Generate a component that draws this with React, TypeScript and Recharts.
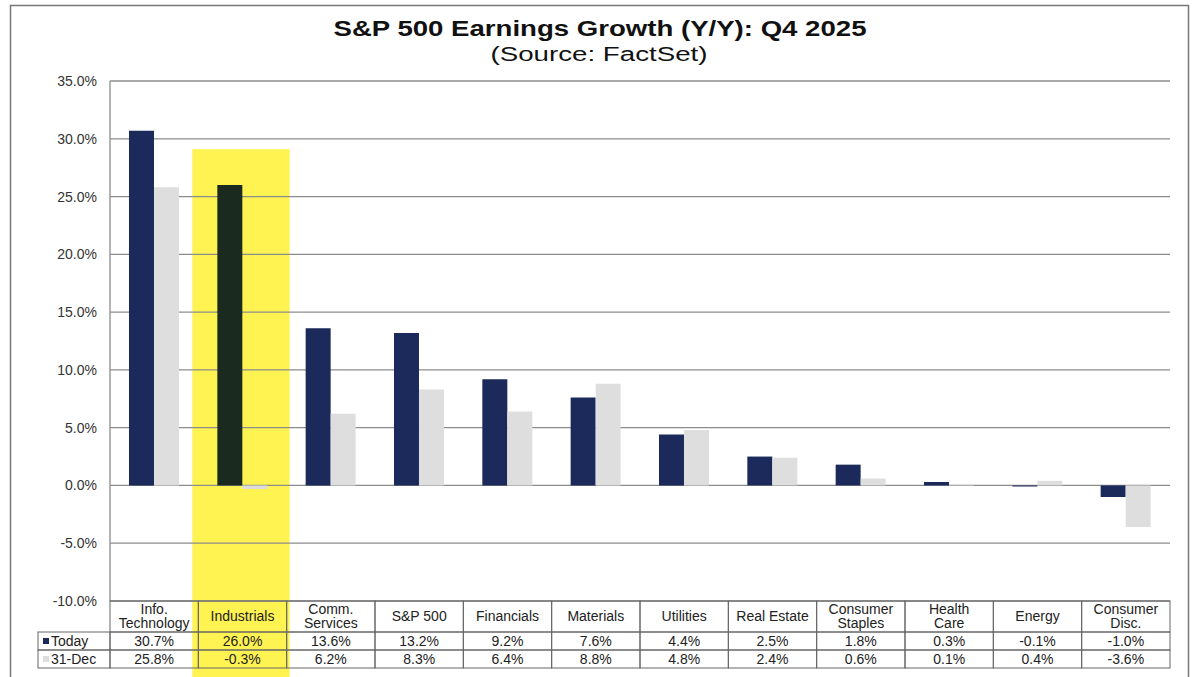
import React from 'react'
import {
  BarChart,
  Bar,
  XAxis,
  YAxis,
  CartesianGrid,
  ReferenceArea,
  Cell
} from 'recharts'

const sectors = [
  'Info.\nTechnology',
  'Industrials',
  'Comm.\nServices',
  'S&P 500',
  'Financials',
  'Materials',
  'Utilities',
  'Real Estate',
  'Consumer\nStaples',
  'Health\nCare',
  'Energy',
  'Consumer\nDisc.'
]
const todayGrowth = [30.7, 26.0, 13.6, 13.2, 9.2, 7.6, 4.4, 2.5, 1.8, 0.3, -0.1, -1.0]
const dec31Growth = [25.8, -0.3, 6.2, 8.3, 6.4, 8.8, 4.8, 2.4, 0.6, 0.1, 0.4, -3.6]
const seriesNames = ['Today', '31-Dec']
const yTicks = [-10, -5, 0, 5, 10, 15, 20, 25, 30, 35]
const highlightSector = 'Industrials'
const highlightTop = 29.1

const NAVY = '#1b2a5a'
const GREY = '#dedede'
const HIGHLIGHT_BAR = '#1b2a1e'
const YELLOW = '#fff352'
const LINE = '#8c8c8c'
const FONT = '"Liberation Sans", Arial, Helvetica, sans-serif'

const data = sectors.map((sector, i) => ({
  sector,
  today: todayGrowth[i],
  dec31: dec31Growth[i]
}))

const pct = (v: number) => `${v.toFixed(1)}%`

// each x tick draws its column of the data table under the plot
function TableTick(props: any) {
  const { x, y, payload } = props
  const i = payload.index
  const half = payload.offset || 44.17
  const left = x - half
  const w = half * 2
  const lines = sectors[i].split('\n')
  const headH = 31
  const rowH = 18
  const txt = { fontSize: 14, fill: '#222', fontFamily: FONT, textAnchor: 'middle' as const }

  return (
    <g>
      <rect x={left} y={y} width={w} height={headH} fill="none" stroke="#666" />
      <rect x={left} y={y + headH} width={w} height={rowH} fill="none" stroke="#666" />
      <rect x={left} y={y + headH + rowH} width={w} height={rowH} fill="none" stroke="#666" />
      {lines.length === 1 ? (
        <text x={x} y={y + 20} {...txt}>{lines[0]}</text>
      ) : (
        lines.map((l, k) => (
          <text key={k} x={x} y={y + 13 + k * 14} {...txt}>{l}</text>
        ))
      )}
      <text x={x} y={y + headH + 14} {...txt}>{pct(todayGrowth[i])}</text>
      <text x={x} y={y + headH + rowH + 14} {...txt}>{pct(dec31Growth[i])}</text>
      {i === 0 && (
        <g>
          <rect x={38} y={y + headH} width={left - 38} height={rowH} fill="none" stroke="#666" />
          <rect x={38} y={y + headH + rowH} width={left - 38} height={rowH} fill="none" stroke="#666" />
          <rect x={43} y={y + headH + 6} width={6} height={6} fill={NAVY} />
          <rect x={43} y={y + headH + rowH + 6} width={6} height={6} fill={GREY} />
          <text x={51} y={y + headH + 14} fontSize={14} fill="#222" fontFamily={FONT}>{seriesNames[0]}</text>
          <text x={51} y={y + headH + rowH + 14} fontSize={14} fill="#222" fontFamily={FONT}>{seriesNames[1]}</text>
        </g>
      )}
    </g>
  )
}

export default function App() {
  return (
    <div style={{ position: 'absolute', left: 0, top: 0, width: 1200, height: 677, background: '#fff', overflow: 'hidden' }}>
      <BarChart
        width={1200}
        height={677}
        data={data}
        margin={{ top: 81, right: 30, bottom: 6, left: 0 }}
        barCategoryGap="21.5%"
        barGap={0}
        style={{ fontFamily: FONT }}
      >
        <ReferenceArea
          x1={highlightSector}
          x2={highlightSector}
          y1={-17}
          y2={highlightTop}
          ifOverflow="visible"
          zIndex={-150}
          shape={(p: any) => (
            <rect x={p.x - 6} y={p.y} width={p.width + 9} height={p.height} fill={YELLOW} />
          )}
        />
        <CartesianGrid vertical={false} stroke={LINE} strokeWidth={1.3} />
        <YAxis
          width={110}
          domain={[-10, 35]}
          ticks={yTicks}
          tickFormatter={pct}
          axisLine={{ stroke: LINE, strokeWidth: 1.3 }}
          tickLine={false}
          tickSize={0}
          tickMargin={13}
          tick={{ fontSize: 14, fill: '#333', fontFamily: FONT }}
        />
        <XAxis
          dataKey="sector"
          height={70}
          interval={0}
          axisLine={false}
          tickLine={false}
          tickSize={0}
          tickMargin={0}
          tick={<TableTick />}
        />
        <Bar dataKey="today" fill={NAVY} isAnimationActive={false}>
          {data.map((d, i) => (
            <Cell key={`today-${i}`} fill={d.sector === highlightSector ? HIGHLIGHT_BAR : NAVY} />
          ))}
        </Bar>
        <Bar dataKey="dec31" fill={GREY} isAnimationActive={false} />
      </BarChart>
      <svg
        width={1200}
        height={677}
        style={{ position: 'absolute', left: 0, top: 0, pointerEvents: 'none' }}
      >
        <rect x={10.5} y={5.5} width={1178} height={700} fill="none" stroke="#777" strokeWidth={1.5} />
        <text
          x={600}
          y={36}
          textAnchor="middle"
          fontFamily={FONT}
          fontWeight="bold"
          fontSize={22}
          fill="#111"
          textLength={533}
          lengthAdjust="spacingAndGlyphs"
        >
          S&amp;P 500 Earnings Growth (Y/Y): Q4 2025
        </text>
        <text
          x={599}
          y={61}
          textAnchor="middle"
          fontFamily={FONT}
          fontSize={20}
          fill="#111"
          textLength={217}
          lengthAdjust="spacingAndGlyphs"
        >
          (Source: FactSet)
        </text>
      </svg>
    </div>
  )
}
